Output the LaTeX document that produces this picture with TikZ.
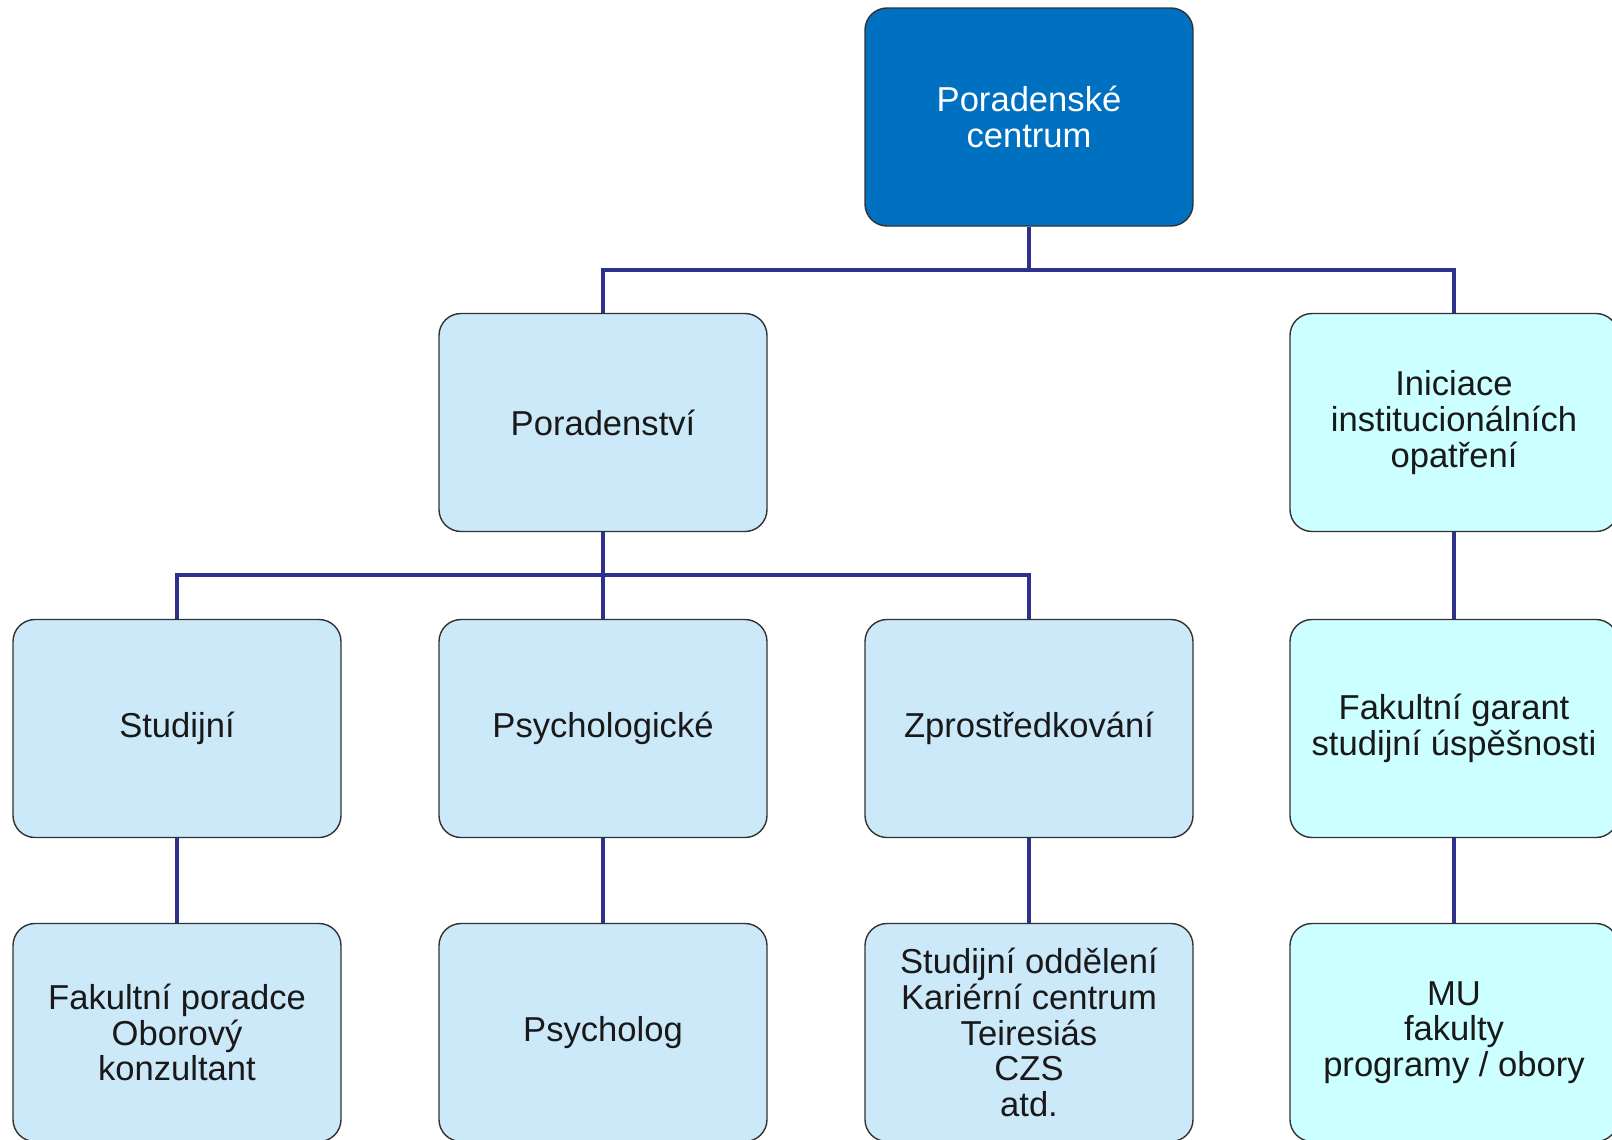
\documentclass[tikz,border=0pt]{standalone}
\usepackage{fontspec}
\setmainfont{Liberation Sans}
\definecolor{pcdark}{RGB}{0,112,192}
\definecolor{pclight}{RGB}{204,233,250}
\definecolor{pccyan}{RGB}{204,255,255}
\definecolor{pcline}{RGB}{46,49,140}
\definecolor{pcedge}{RGB}{50,50,50}
\tikzset{
  pcbox/.style={rectangle, rounded corners=11pt, draw=pcedge, line width=0.7pt,
    minimum width=164pt, minimum height=109pt, align=center, text=black!90,
    font=\fontsize{17.3pt}{17.8pt}\selectfont, fill=pclight},
  pcconn/.style={draw=pcline, line width=2pt}
}
\begin{document}
\begin{tikzpicture}[x=0.5pt,y=-0.5pt]

\useasboundingbox (0,0) rectangle (1612,1140);


\node [pcbox, fill=pcdark, text=white] (pc-top) at (1029,117){Poradenské\\centrum};


\node [pcbox] (pc-por) at (603,422.5){Poradenství};
\draw [pcconn]   (pc-top.south) -- ++(0,43) -| (pc-por.north);

\node [pcbox, fill=pccyan] (pc-ini) at (1454,422.5){Iniciace\\institucionálních\\opatření};
\draw [pcconn]   (pc-top.south) -- ++(0,43) -| (pc-ini.north);



\node [pcbox] (pc-stu) at (177,728.5){Studijní};
\draw [pcconn]   (pc-por.south) -- ++(0,43) -| (pc-stu.north);

\node [pcbox] (pc-psy) at (603,728.5){Psychologické};
\draw [pcconn]   (pc-por.south) -- (pc-psy.north);

\node [pcbox] (pc-zpr) at (1029,728.5){Zprostředkování};
\draw [pcconn]   (pc-por.south) -- ++(0,43) -| (pc-zpr.north);

\node [pcbox, fill=pccyan] (pc-gar) at (1454,728.5){Fakultní garant\\studijní úspěšnosti};
\draw [pcconn]   (pc-ini.south) -- (pc-gar.north);



\node [pcbox] (pc-stu-2) at (177,1032.5){Fakultní poradce\\Oborový\\konzultant};
\draw [pcconn]   (pc-stu.south) -- (pc-stu-2.north);

\node [pcbox] (pc-psy-2) at (603,1032.5){Psycholog};
\draw [pcconn]   (pc-psy.south) -- (pc-psy-2.north);

\node [pcbox] (pc-zpr-2) at (1029,1032.5){Studijní oddělení\\Kariérní centrum\\Teiresiás\\CZS\\atd.};
\draw [pcconn]   (pc-zpr.south) -- (pc-zpr-2.north);

\node [pcbox, fill=pccyan] (pc-gar-2) at (1454,1032.5){MU\\fakulty\\programy / obory};
\draw [pcconn]   (pc-gar.south) -- (pc-gar-2.north);


%%%%%%%%%%%%%%%%%%%%%%%%%%%%%%%%%%%%%%%%%%%%%%%%%%%%%%%%%%%%%%%%%

\end{tikzpicture}
\end{document}
